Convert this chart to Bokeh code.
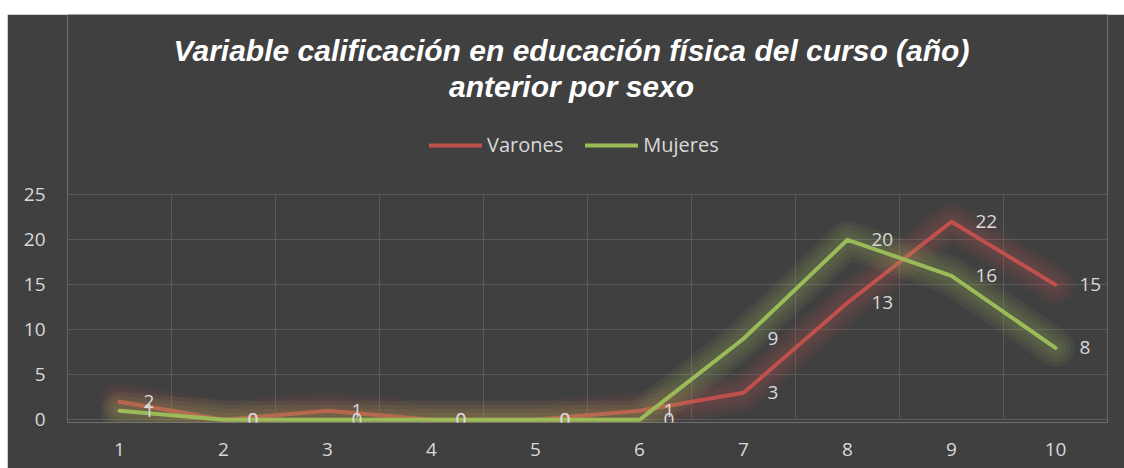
from bokeh.plotting import figure
from bokeh.models import (ColumnDataSource, Range1d, FixedTicker, Label, LabelSet,
                          Legend, LegendItem, Spacer)
from bokeh.layouts import column, row
from bokeh.core.properties import value
from bokeh.embed import file_html
from bokeh.resources import INLINE

# ---- data ----
grades = [1, 2, 3, 4, 5, 6, 7, 8, 9, 10]
varones = [2, 0, 1, 0, 0, 1, 3, 13, 22, 15]
mujeres = [1, 0, 0, 0, 0, 0, 9, 20, 16, 8]
y_ticks = [0, 5, 10, 15, 20, 25]
title_lines = ["Variable calificación en educación física del curso (año)", "anterior por sexo"]
series_names = ["Varones", "Mujeres"]

BG = "#404040"
RED = "#C0504D"
GREEN = "#9BBB59"
TXT = "#D9D9D9"
GRID = "#5A5A5A"
FONT = "Open Sans"

# frame spans the whole height; the region above 25 holds title and legend
p = figure(width=1117, height=454, output_backend="svg", toolbar_location=None,
           x_range=Range1d(0.5, 10.5), y_range=Range1d(-0.3, 45.03),
           min_border_left=60, min_border_right=17, min_border_top=0, min_border_bottom=46)
p.background_fill_color = BG
p.border_fill_color = BG
p.outline_line_color = None

p.xgrid.visible = False
p.ygrid.grid_line_color = GRID
p.ygrid.grid_line_width = 1
p.ygrid.ticker = FixedTicker(ticks=y_ticks)

bounds = [g - 0.5 for g in grades] + [grades[-1] + 0.5]
p.segment(x0=bounds, y0=[y_ticks[0]] * len(bounds), x1=bounds, y1=[y_ticks[-1]] * len(bounds),
          line_color=GRID, line_width=1)

for ax in (p.xaxis[0], p.yaxis[0]):
    ax.axis_line_color = None
    ax.major_tick_line_color = None
    ax.minor_tick_line_color = None
    ax.major_tick_out = 0
    ax.major_label_text_font = FONT
    ax.major_label_text_font_size = "19px"
    ax.major_label_text_color = TXT
p.xaxis.ticker = FixedTicker(ticks=grades)
p.yaxis.ticker = FixedTicker(ticks=y_ticks)
p.xaxis.major_label_standoff = 20
p.yaxis.major_label_standoff = 22

src = ColumnDataSource(dict(x=grades, v=varones, m=mujeres,
                            vt=[str(a) for a in varones], mt=[str(a) for a in mujeres]))

main = {}
for col, color, name in (("v", RED, series_names[0]), ("m", GREEN, series_names[1])):
    for w in (38, 30, 22, 14):
        p.line("x", col, source=src, line_color=color, line_width=w, line_alpha=0.075,
               line_join="round", line_cap="round")
    main[name] = p.line("x", col, source=src, line_color=color, line_width=4,
                        line_join="round", line_cap="round")

for col in ("vt", "mt"):
    ycol = col[0]
    p.add_layout(LabelSet(x="x", y=ycol, text=col, source=src, x_offset=24,
                          text_align="left", text_baseline="middle",
                          text_font=value(FONT), text_font_size="19px", text_color=TXT))

legend = Legend(items=[LegendItem(label=n, renderers=[main[n]]) for n in series_names],
                orientation="horizontal", location=(362, 264),
                background_fill_alpha=0, border_line_alpha=0,
                padding=0, margin=0, spacing=22, label_standoff=5,
                glyph_width=53, glyph_height=20, label_height=20,
                label_text_font=FONT, label_text_font_size="20px", label_text_color=TXT)
p.add_layout(legend, "center")

for txt, yb in zip(title_lines, (372, 336)):
    p.add_layout(Label(x=504, y=yb, x_units="screen", y_units="screen", text=txt,
                       text_align="center", text_baseline="alphabetic",
                       text_font="Liberation Sans", text_font_style="bold italic",
                       text_font_size="30px", text_color="#FFFFFF"))

layout = column(Spacer(width=1124, height=14), row(Spacer(width=7, height=454), p))
open("out.html", "w").write(file_html(layout, INLINE))
